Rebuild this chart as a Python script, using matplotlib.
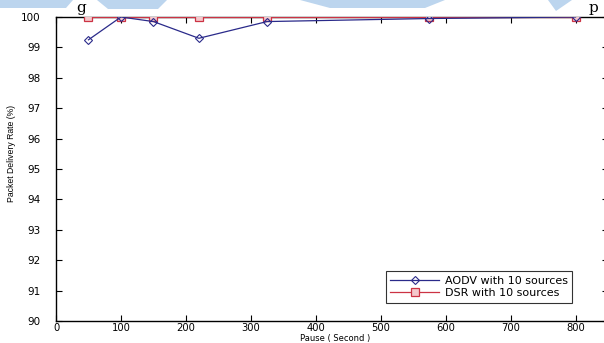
import matplotlib.pyplot as plt
from matplotlib.patches import Polygon

plt.rcParams['font.family'] = ['DejaVu Sans']

# pause time (s) and packet delivery rate (%)
pause = [50, 100, 150, 220, 325, 575, 800]
aodv = [99.25, 100.0, 99.85, 99.3, 99.85, 99.95, 100.0]
dsr = [100, 100, 100, 100, 100, 100, 100]

x_ticks = [0, 100, 200, 300, 400, 500, 600, 700, 800]
y_ticks = [90, 91, 92, 93, 94, 95, 96, 97, 98, 99, 100]

W, H = 604, 343
fig = plt.figure(figsize=(W / 100, H / 100), dpi=100)

# watermark scraps at the top edge (pixel coords, top origin)
blue = '#bcd5ee'
shapes = [
    [(0, 0), (73, 0), (66, 8), (0, 8)],
    [(97, 0), (167, 0), (158, 9), (108, 9)],
    [(300, 0), (445, 0), (425, 8), (330, 8)],
    [(548, 0), (572, 0), (556, 11)],
]
for s in shapes:
    fig.patches.append(Polygon([(px / W, 1 - py / H) for px, py in s],
                               closed=True, transform=fig.transFigure,
                               facecolor=blue, edgecolor='none', zorder=0))
fig.text(76 / W, 1 - 1 / H, 'g', family='DejaVu Serif', fontsize=11, va='top')
fig.text(589 / W, 1 - 1 / H, 'p', family='DejaVu Serif', fontsize=11, va='top')

ax = fig.add_axes([56 / W, 22 / H, 552 / W, 304 / H])
ax.plot(pause, aodv, color='#2a2a8a', lw=0.9, marker='D', ms=4,
        mfc='none', mec='#2a2a8a', mew=0.8, label='AODV with 10 sources', zorder=4)
ax.plot(pause, dsr, color='#cc3344', lw=0.9, marker='s', ms=6,
        mfc='#f4c8cc', mec='#cc3344', mew=0.9, label='DSR with 10 sources', zorder=3)

ax.set_xlim(0, 850)
ax.set_ylim(90, 100)
ax.set_xticks(x_ticks)
ax.set_yticks(y_ticks)
ax.tick_params(direction='in', length=4, width=0.8, labelsize=7.5,
               top=True, right=True)
ax.tick_params(axis='y', pad=11)
ax.tick_params(axis='x', pad=1.5, labelsize=7.2)
for sp in ax.spines.values():
    sp.set_linewidth(1.0)
ax.set_xlabel('Pause ( Second )', fontsize=6)
ax.xaxis.set_label_coords(0.505, -0.071, transform=ax.transAxes)
ax.xaxis.label.set_va('bottom')
ax.set_ylabel('Packet Delivery Rate (%)', family='Liberation Sans', fontsize=6.2)
ax.yaxis.set_label_coords(-0.072, 0.55)

leg = ax.legend(loc='lower right', bbox_to_anchor=(0.935, 0.06), fontsize=8,
                handlelength=4.4, handletextpad=0.5, frameon=True, fancybox=False,
                borderpad=0.4, labelspacing=0.25, borderaxespad=0)
leg.get_frame().set_edgecolor('black')
leg.get_frame().set_linewidth(0.8)

fig.savefig('out.png', dpi=100)
